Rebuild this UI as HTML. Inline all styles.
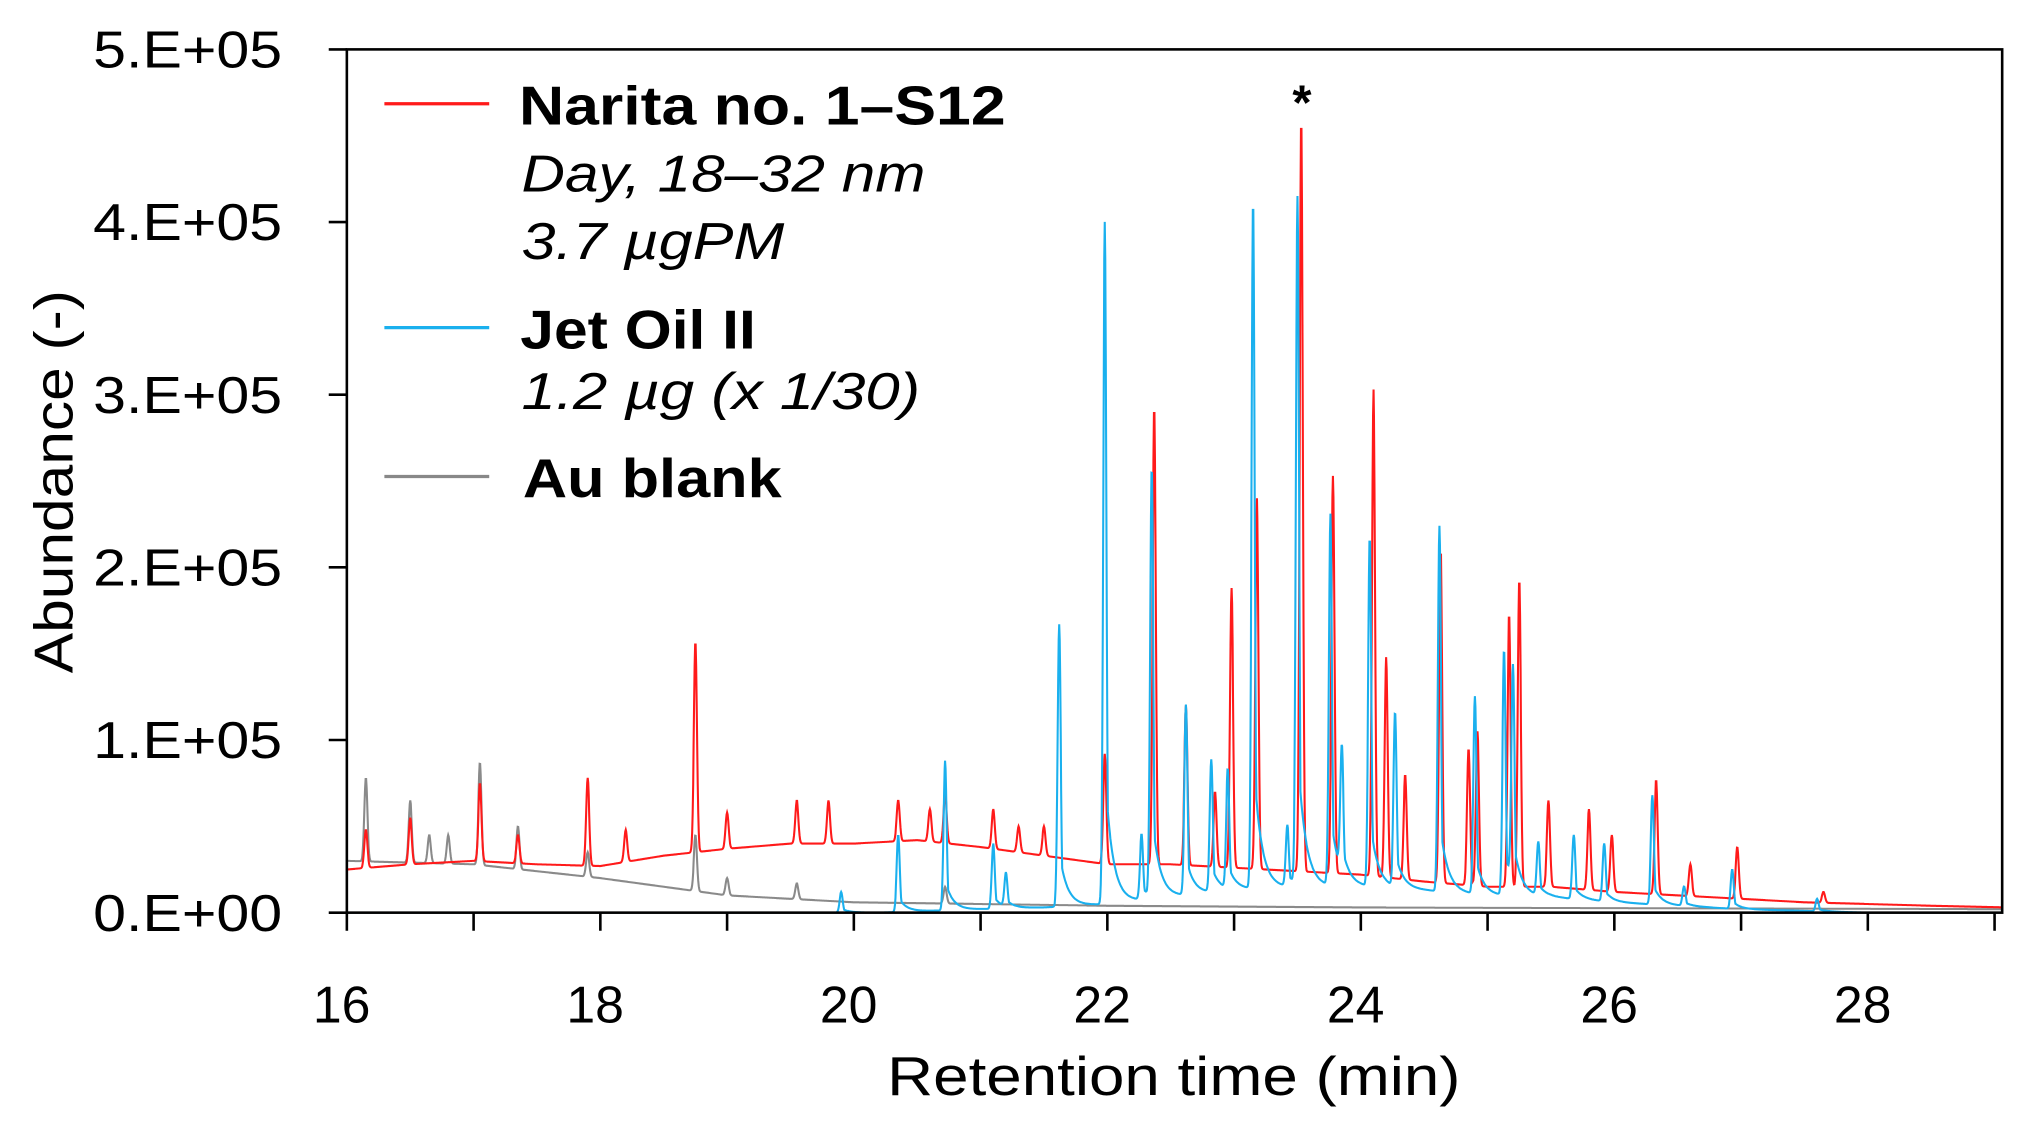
<!DOCTYPE html>
<html><head><meta charset="utf-8"><style>
html,body{margin:0;padding:0;background:#fff;}
svg{display:block;font-family:"Liberation Sans",sans-serif;}
</style></head><body>
<svg id="chart" width="2019" height="1129" viewBox="0 0 1560 872" xmlns="http://www.w3.org/2000/svg">
<g id="plot"></g>
<g id="axes"></g>
<g>
 <line x1="297" y1="80" x2="378" y2="80" stroke="#ff1a1a" stroke-width="2.5"/>
 <text x="401" y="96" font-size="42" font-weight="bold" textLength="376" lengthAdjust="spacingAndGlyphs">Narita no. 1–S12</text>
 <text x="403" y="148" font-size="40" font-style="italic" textLength="312" lengthAdjust="spacingAndGlyphs">Day, 18–32 nm</text>
 <text x="403" y="200" font-size="40" font-style="italic" textLength="203" lengthAdjust="spacingAndGlyphs">3.7 µgPM</text>
 <line x1="297" y1="253" x2="378" y2="253" stroke="#1ab0ee" stroke-width="2.5"/>
 <text x="402" y="269" font-size="42" font-weight="bold" textLength="182" lengthAdjust="spacingAndGlyphs">Jet Oil II</text>
 <text x="403" y="316" font-size="40" font-style="italic" textLength="308" lengthAdjust="spacingAndGlyphs">1.2 µg (x 1/30)</text>
 <line x1="297" y1="368" x2="378" y2="368" stroke="#888" stroke-width="2.5"/>
 <text x="404" y="384" font-size="42" font-weight="bold" textLength="200" lengthAdjust="spacingAndGlyphs">Au blank</text>
</g>
<text x="1006" y="92" font-size="38" font-weight="bold" text-anchor="middle">*</text>
<text x="907" y="846" font-size="42" text-anchor="middle" textLength="443" lengthAdjust="spacingAndGlyphs">Retention time (min)</text>
<text transform="translate(56,372) rotate(-90)" font-size="42" text-anchor="middle" textLength="296" lengthAdjust="spacingAndGlyphs">Abundance (-)</text>
</svg>
<script>
const xTicks=[16,18,20,22,24,26,28];
const yTicks=[0,100000,200000,300000,400000,500000];
const yTickLabels=["0.E+00","1.E+05","2.E+05","3.E+05","4.E+05","5.E+05"];
// Narita (red): baseline and peaks
const redBaseT=[16,16.5,17,17.5,18,18.5,19,19.5,20,20.5,21,21.5,22,22.5,23,23.5,24,24.5,25,25.5,26,26.5,27,27.5,28,28.5,29.1];
const redBaseV=[25000,28000,30000,28000,27000,33000,37000,40000,40000,42000,38000,33000,28000,28000,26000,24000,22000,18000,15000,15000,12000,10000,8000,6000,5000,4000,3000];
const redPeakT=[16.15,16.5,17.05,17.35,17.9,18.2,18.75,19.0,19.55,19.8,20.35,20.6,20.72,21.1,21.3,21.5,21.98,22.37,22.62,22.85,22.98,23.18,23.53,23.78,24.1,24.2,24.35,24.63,24.85,24.92,25.17,25.25,25.48,25.8,25.98,26.33,26.6,26.97,27.65];
const redPeakV=[48000,55000,75000,45000,78000,48000,157000,58000,65000,65000,65000,60000,70000,60000,50000,50000,92000,293000,120000,70000,188000,240000,460000,253000,303000,148000,80000,210000,95000,105000,173000,193000,65000,60000,45000,77000,28000,38000,12000];
// Jet Oil II (blue)
const blueBaseT=[16,20.2,21,21.5,22,22.5,23,23.5,24,24.5,25,25.5,26,26.5,27,27.5,28,29.1];
const blueBaseV=[0,0,2000,3000,5000,9000,13000,15000,15000,13000,10000,9000,6000,4000,2000,1000,0,0];
const bluePeakT=[19.9,20.35,20.72,21.1,21.2,21.62,21.98,22.27,22.35,22.62,22.82,22.95,23.15,23.42,23.5,23.76,23.85,24.07,24.27,24.62,24.9,25.13,25.2,25.4,25.68,25.92,26.3,26.55,26.93,27.6];
const bluePeakV=[12000,45000,88000,40000,22000,167000,400000,45000,256000,120000,88000,82000,412000,50000,413000,230000,88000,217000,115000,224000,125000,152000,135000,40000,45000,40000,68000,15000,25000,8000];
// Au blank (gray)
const grayBaseT=[16,17,18,18.5,19,19.5,20,21,22,24,29.1];
const grayBaseV=[30000,28000,20000,15000,10000,8000,6000,5000,4000,3000,2000];
const grayPeakT=[16.15,16.5,16.65,16.8,17.05,17.35,17.9,18.75,19.0,19.55,20.72];
const grayPeakV=[78000,65000,45000,45000,87000,50000,35000,45000,20000,17000,15000];

const X0=268,X1=1547,T0=16,T1=29.06,Y0=705,Y1=38,V1=500000;
function sx(t){return X0+(t-T0)/(T1-T0)*(X1-X0);}
function sy(v){return Y0-(v/V1)*(Y0-Y1);}
const NS="http://www.w3.org/2000/svg";
function mk(tag,parent){const e=document.createElementNS(NS,tag);parent.appendChild(e);return e;}
function interp(ts,vs,t){if(t<=ts[0])return vs[0];for(let i=1;i<ts.length;i++){if(t<=ts[i]){const f=(t-ts[i-1])/(ts[i]-ts[i-1]);return vs[i-1]+f*(vs[i]-vs[i-1]);}}return vs[vs.length-1];}
function signal(bT,bV,pT,pV,tail,t){
  const b=interp(bT,bV,t);let s=b;
  for(let i=0;i<pT.length;i++){
    const d=t-pT[i];const h=Math.max(0,pV[i]-interp(bT,bV,pT[i]));
    let g=Math.exp(-d*d/(2*0.012*0.012));
    if(tail&&d>0){g=Math.max(g,0.2*Math.exp(-d/tail)*(d>0.01?1:0));}
    s+=h*g;
  }
  return s;
}
const plot=document.getElementById('plot');
function series(name,color,bT,bV,pT,pV,tail,startT){
  let d="";
  for(let t=startT;t<=29.06;t+=0.004){
    const v=signal(bT,bV,pT,pV,tail,t);
    d+=(d?"L":"M")+sx(t).toFixed(1)+","+sy(v).toFixed(1);
  }
  const p=mk('path',plot);
  
  
  p.setAttribute('d',d);p.setAttribute('fill','none');p.setAttribute('stroke',color);p.setAttribute('stroke-width','1.6');
}
series('series-au-blank','#8a8a8a',grayBaseT,grayBaseV,grayPeakT,grayPeakV,0,16);
series('series-narita','#ff1a1a',redBaseT,redBaseV,redPeakT,redPeakV,0,16);
series('series-jet-oil','#1ab0ee',blueBaseT,blueBaseV,bluePeakT,bluePeakV,0.06,16);

const axes=document.getElementById('axes');
const frame=mk('rect',axes);


frame.setAttribute('x',X0);frame.setAttribute('y',Y1);frame.setAttribute('width',X1-X0);frame.setAttribute('height',Y0-Y1);
frame.setAttribute('fill','none');frame.setAttribute('stroke','#000');frame.setAttribute('stroke-width','2');
for(let i=0;i<yTicks.length;i++){
  const y=sy(yTicks[i]);
  const l=mk('line',axes);
  
  
  l.setAttribute('x1',X0-14);l.setAttribute('x2',X0);l.setAttribute('y1',y);l.setAttribute('y2',y);l.setAttribute('stroke','#000');l.setAttribute('stroke-width','2');
  const tx=mk('text',axes);
  
  
  tx.setAttribute('x',218);tx.setAttribute('y',y+14);tx.setAttribute('font-size','40');tx.setAttribute('text-anchor','end');
  tx.setAttribute('textLength','146');tx.setAttribute('lengthAdjust','spacingAndGlyphs');
  tx.textContent=yTickLabels[i];
}
for(let t=16;t<=29;t++){
  const x=sx(t);
  const l=mk('line',axes);
  
  
  l.setAttribute('x1',x);l.setAttribute('x2',x);l.setAttribute('y1',Y0);l.setAttribute('y2',Y0+14);l.setAttribute('stroke','#000');l.setAttribute('stroke-width','2');
}
for(const t of xTicks){
  const tx=mk('text',axes);
  
  
  tx.setAttribute('x',sx(t)-4);tx.setAttribute('y',790);tx.setAttribute('font-size','40');tx.setAttribute('text-anchor','middle');
  tx.textContent=String(t);
}
</script>
</body></html>
